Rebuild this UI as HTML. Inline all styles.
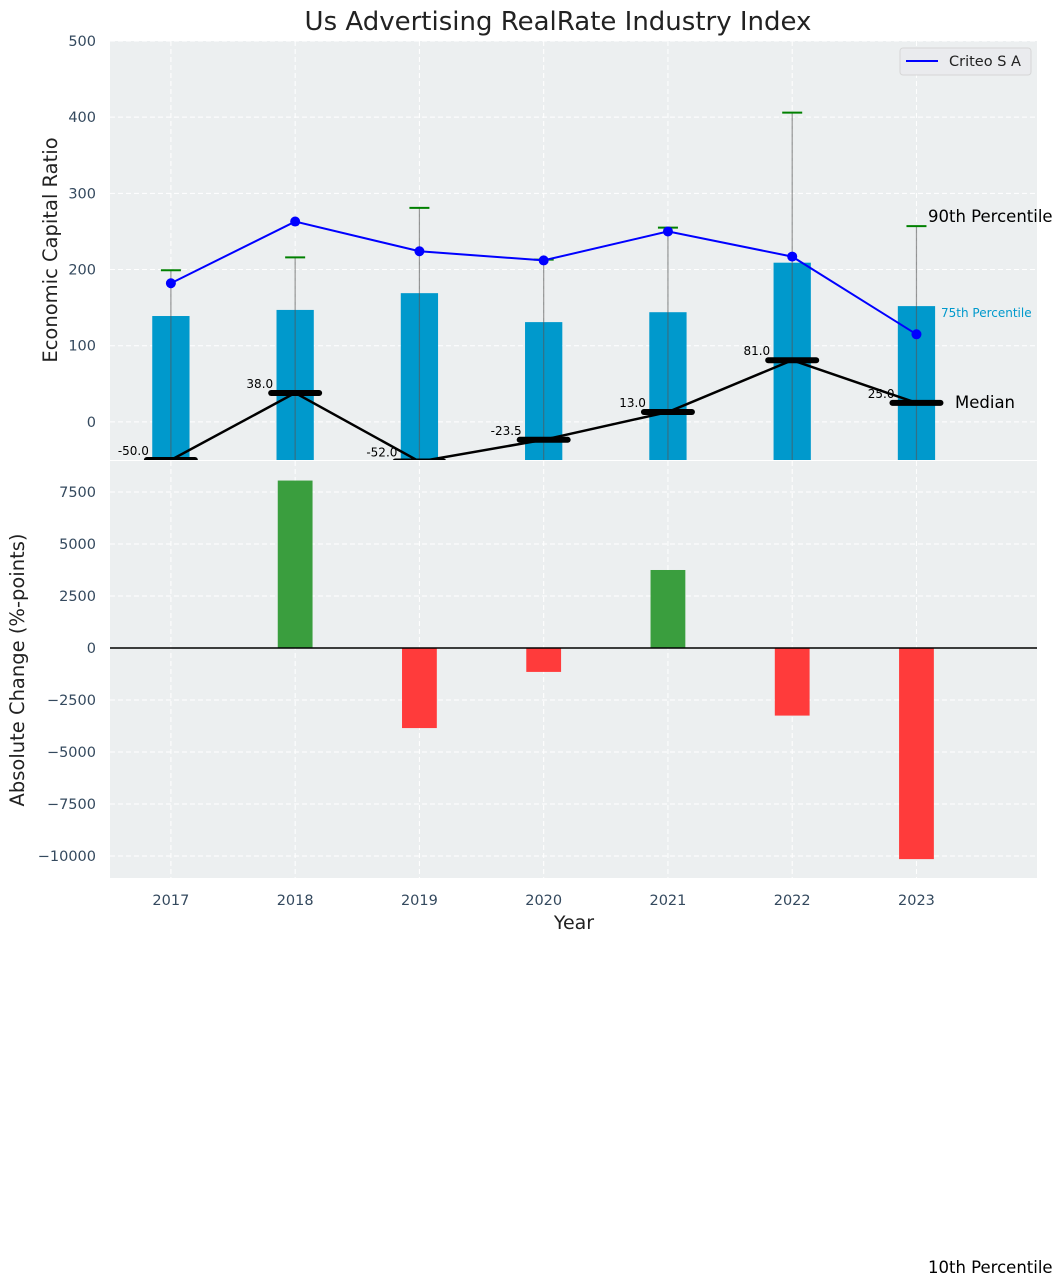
<!DOCTYPE html>
<html><head><meta charset="utf-8">
<style>
html,body{margin:0;padding:0;background:#fff;}
svg{display:block;font-family:"DejaVu Sans","Liberation Sans",sans-serif;}
</style></head>
<body>
<svg id="chart" width="1063" height="1287" viewBox="0 0 1063 1287" xmlns="http://www.w3.org/2000/svg">
<rect width="1063" height="1287" fill="#fff"/>
<text x="558" y="30" font-size="26" text-anchor="middle" fill="#222">Us Advertising RealRate Industry Index</text>
<g id="topg"></g>
<g id="bottomg"></g>
</svg>
<script>
const years = [2017, 2018, 2019, 2020, 2021, 2022, 2023];
const p75 = [139, 147, 169, 131, 144, 209, 152];
const p90 = [199, 216, 281, 213, 255, 406, 257];
const company = [182, 263, 224, 212, 250, 217, 115];
const median = [-50, 38, -52, -23.5, 13, 81, 25];
const changes = [0, 8050, -3850, -1150, 3750, -3250, -10150];
const topTicks = [0, 100, 200, 300, 400, 500];
const bottomTicks = [-10000, -7500, -5000, -2500, 0, 2500, 5000, 7500];

const NS = 'http://www.w3.org/2000/svg';
function mk(parent, tag, attrs, text) {
  const e = document.createElementNS(NS, tag);
  for (const k in attrs) e.setAttribute(k, attrs[k]);
  if (text !== undefined) e.textContent = text;
  parent.appendChild(e);
  return e;
}
const L = 110, R = 1037;
const xs = i => L + (i + 0.49) / 7.46 * (R - L);
const T1 = 41, B1 = 460, yMin1 = -50, yMax1 = 500;
const y1 = v => B1 - (v - yMin1) / (yMax1 - yMin1) * (B1 - T1);
const T2 = 461, B2 = 878, yMin2 = -11058, yMax2 = 8990;
const y2 = v => B2 - (v - yMin2) / (yMax2 - yMin2) * (B2 - T2);
const bw = (xs(1) - xs(0)) * 0.3;
const bw2 = (xs(1) - xs(0)) * 0.28;

// ---- top axes
const topG = document.getElementById('topg');
let r = mk(topG, 'rect', {x: L, y: T1, width: R - L, height: B1 - T1, fill: '#eceff0'});


const clip = mk(topG, 'clipPath', {id: 'c1'});
mk(clip, 'rect', {x: L, y: T1, width: R - L, height: B1 - T1});
topTicks.forEach(t => {
  const g = mk(topG, 'line', {x1: L, x2: R, y1: y1(t), y2: y1(t), stroke: '#fff', 'stroke-dasharray': '5,3', 'stroke-width': 1});
  
  
  const tl = mk(topG, 'text', {x: 96, y: y1(t) + 5, 'font-size': 14.5, 'text-anchor': 'end', fill: '#34495e'}, String(t));
  
  
});
years.forEach((yr, i) => {
  const g = mk(topG, 'line', {x1: xs(i), x2: xs(i), y1: T1, y2: B1, stroke: '#fff', 'stroke-dasharray': '5,3'});
  
  
});
const yt = mk(topG, 'text', {x: 57, y: 250, 'font-size': 19.5, 'text-anchor': 'middle', fill: '#222', transform: 'rotate(-90 57 250)'}, 'Economic Capital Ratio');


const pg = mk(topG, 'g', {'clip-path': 'url(#c1)'});
years.forEach((yr, i) => {
  const b = mk(pg, 'rect', {x: xs(i) - bw / 2, y: y1(p75[i]), width: bw, height: y1(yMin1) - y1(p75[i]), fill: '#0099cc'});
  
  
  const w = mk(pg, 'line', {x1: xs(i), x2: xs(i), y1: y1(p90[i]), y2: B1 + 10, stroke: '#555', 'stroke-opacity': 0.6, 'stroke-width': 1.2});
  
  
  const c = mk(pg, 'line', {x1: xs(i) - 10, x2: xs(i) + 10, y1: y1(p90[i]), y2: y1(p90[i]), stroke: 'green', 'stroke-width': 2});
  
  
});
const mline = mk(pg, 'polyline', {points: median.map((v, i) => xs(i) + ',' + y1(v)).join(' '), fill: 'none', stroke: '#000', 'stroke-width': 2.5});


median.forEach((v, i) => {
  const m = mk(pg, 'line', {x1: xs(i) - 24, x2: xs(i) + 24, y1: y1(v), y2: y1(v), stroke: '#000', 'stroke-width': 6, 'stroke-linecap': 'round'});
  
  
});
const cline = mk(pg, 'polyline', {points: company.map((v, i) => xs(i) + ',' + y1(v)).join(' '), fill: 'none', stroke: '#0000ff', 'stroke-width': 2});


company.forEach((v, i) => {
  const p = mk(pg, 'circle', {cx: xs(i), cy: y1(v), r: 5, fill: '#0000ff'});
  
  
});
median.forEach((v, i) => {
  const t = mk(topG, 'text', {x: xs(i) - 22, y: y1(v) - 5, 'font-size': 12, 'text-anchor': 'end', fill: '#000'}, v.toFixed(1));
  
  
});
// legend
const lg = mk(topG, 'g', {});


mk(lg, 'rect', {x: 900, y: 48, width: 131, height: 27, rx: 3, fill: '#eaebee', stroke: '#d6d6d6'});
mk(lg, 'line', {x1: 906, x2: 938, y1: 61, y2: 61, stroke: '#0000ff', 'stroke-width': 2});
const lt = mk(lg, 'text', {x: 949, y: 66, 'font-size': 14.5, fill: '#222'}, 'Criteo S A');


const a1 = mk(topG, 'text', {x: 928, y: 222, 'font-size': 16.5, fill: '#000'}, '90th Percentile');


const a2 = mk(topG, 'text', {x: 941, y: 317, 'font-size': 12, fill: '#0099cc'}, '75th Percentile');


const a3 = mk(topG, 'text', {x: 955, y: 408, 'font-size': 16.5, fill: '#000'}, 'Median');



// ---- bottom axes
const botG = document.getElementById('bottomg');
r = mk(botG, 'rect', {x: L, y: T2, width: R - L, height: B2 - T2, fill: '#eceff0'});


bottomTicks.forEach(t => {
  const g = mk(botG, 'line', {x1: L, x2: R, y1: y2(t), y2: y2(t), stroke: '#fff', 'stroke-dasharray': '5,3'});
  
  
  const tl = mk(botG, 'text', {x: 96, y: y2(t) + 5, 'font-size': 14.5, 'text-anchor': 'end', fill: '#34495e'}, t < 0 ? '\u2212' + Math.abs(t) : String(t));
  
  
});
years.forEach((yr, i) => {
  const g = mk(botG, 'line', {x1: xs(i), x2: xs(i), y1: T2, y2: B2, stroke: '#fff', 'stroke-dasharray': '5,3'});
  
  
  const tl = mk(botG, 'text', {x: xs(i), y: 905, 'font-size': 14.5, 'text-anchor': 'middle', fill: '#34495e'}, String(yr));
  
  
});
changes.forEach((v, i) => {
  if (v === 0) return;
  const b = mk(botG, 'rect', {x: xs(i) - bw2 / 2, y: Math.min(y2(v), y2(0)), width: bw2, height: Math.abs(y2(v) - y2(0)), fill: v > 0 ? '#3a9e3e' : '#ff3b3b'});
  
  
});
const zl = mk(botG, 'line', {x1: L, x2: R, y1: y2(0), y2: y2(0), stroke: '#000', 'stroke-width': 1.5});


const yt2 = mk(botG, 'text', {x: 24, y: 670, 'font-size': 19.5, 'text-anchor': 'middle', fill: '#222', transform: 'rotate(-90 24 670)'}, 'Absolute Change (%-points)');


const xt = mk(botG, 'text', {x: 574, y: 929, 'font-size': 19, 'text-anchor': 'middle', fill: '#222'}, 'Year');


const a4 = mk(botG, 'text', {x: 928, y: 1273, 'font-size': 16.5, fill: '#000'}, '10th Percentile');


</script>
</body></html>
